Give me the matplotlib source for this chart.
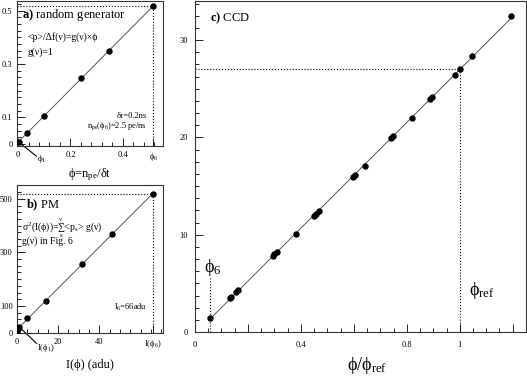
import numpy as np
import matplotlib
matplotlib.use("Agg")
import matplotlib.pyplot as plt
from matplotlib.ticker import MultipleLocator, FixedLocator

###Donnees###
# a) random generator
phi_a = [0.002, 0.033, 0.10, 0.24, 0.347, 0.516]
sig_a = [0.008, 0.040, 0.106, 0.246, 0.349, 0.517]
# b) PM
I_b = [0.0, 0.3, 1.0, 5.0, 14.0, 31.4, 46.3, 66.0]
sig_b = [4.0, 14.0, 22.0, 56.0, 120.0, 257.0, 368.0, 519.0]
# c) CCD
x_c = [0.057, 0.133, 0.136, 0.155, 0.163, 0.293, 0.299, 0.308, 0.382, 0.449,
       0.456, 0.468, 0.595, 0.604, 0.644, 0.742, 0.748, 0.818, 0.887, 0.897,
       0.981, 1.0, 1.047, 1.192]
y_c = [1.5, 3.5, 3.6, 4.1, 4.3, 7.8, 8.0, 8.2, 10.1, 11.9,
       12.1, 12.4, 15.9, 16.1, 17.1, 19.9, 20.1, 21.96, 23.9, 24.2,
       26.4, 27.0, 28.4, 32.5]
phi_ref = 1.0
y_ref = 27.0
################################

plt.rcParams['font.family'] = ['Liberation Serif', 'DejaVu Serif']
plt.rcParams['mathtext.fontset'] = 'custom'
plt.rcParams['mathtext.rm'] = 'Liberation Serif'
plt.rcParams['mathtext.it'] = 'Liberation Serif:italic'
plt.rcParams['mathtext.bf'] = 'Liberation Serif:bold'
plt.rcParams['mathtext.default'] = 'regular'

fig = plt.figure(figsize=(5.27, 3.77), dpi=100)
axA = fig.add_axes([0.0317, 0.6135, 0.2776, 0.384])
axB = fig.add_axes([0.0317, 0.1175, 0.2776, 0.392])
axC = fig.add_axes([0.370, 0.119, 0.628, 0.878])

def style(ax):
    ax.tick_params(which='both', direction='in', top=False, right=False,
                   labelsize=6, pad=3, width=0.6)
    ax.tick_params(which='major', length=6)
    ax.tick_params(which='minor', length=3)
    for s in ax.spines.values():
        s.set_linewidth(0.8)
        s.set_color('#333333')

def droite(ax, x, y):
    p = np.polyfit(x, y, 1)
    xx = np.array([min(x), max(x)])
    ax.plot(xx, np.polyval(p, xx), '-', color='#555555', lw=0.7, zorder=2)
    ax.plot(x, y, 'o', color='black', ms=3.6, zorder=3)

###Panneau a###
style(axA)
droite(axA, phi_a, sig_a)
axA.set_xlim(-0.005, 0.553)
axA.set_ylim(-0.006, 0.536)
axA.plot([-0.005, phi_a[-1]], [sig_a[-1], sig_a[-1]], ':', color='black', lw=0.8)
axA.plot([phi_a[-1], phi_a[-1]], [-0.006, sig_a[-1]], ':', color='black', lw=0.8)
axA.xaxis.set_major_locator(FixedLocator([0, 0.2, 0.4, phi_a[-1]]))
axA.set_xticklabels(['0', '0.2', '0.4', '$ϕ_6$'])
axA.xaxis.set_minor_locator(MultipleLocator(0.04))
axA.yaxis.set_major_locator(FixedLocator([0, 0.1, 0.3, 0.5]))
axA.set_yticklabels(['0', '0.1', '0.3', '0.5'])
axA.yaxis.set_minor_locator(MultipleLocator(0.025))
axA.tick_params(axis='x', pad=4)
axA.set_xlabel('ϕ=n$_{pe}$/δt', fontsize=9, labelpad=2)
axA.text(0.015, 0.483, '$\\mathbf{a)}$ random generator', fontsize=9, va='center')
axA.text(0.035, 0.40, '<p>/Δf(ν)=g(ν)×ϕ', fontsize=7, va='center')
axA.text(0.035, 0.345, 'g(ν)=1', fontsize=7, va='center')
axA.text(0.49, 0.106, 'δτ=0.2ns', fontsize=6, ha='right', va='center')
axA.text(0.49, 0.066, 'n$_{pe}$(ϕ$_6$)=2.5 pe/ns', fontsize=6, ha='right', va='center')
axA.plot([phi_a[0], 0.07], [sig_a[0], -0.045], '-', color='black', lw=0.8, clip_on=False)
axA.text(0.072, -0.055, '$ϕ_1$', fontsize=6.5, va='center')

###Panneau b###
style(axB)
droite(axB, I_b, sig_b)
axB.set_xlim(-0.15, 70.9)
axB.set_ylim(0, 552)
axB.plot([-0.15, I_b[-1]], [sig_b[-1], sig_b[-1]], ':', color='black', lw=0.8)
axB.plot([I_b[-1], I_b[-1]], [0, sig_b[-1]], ':', color='black', lw=0.8)
axB.xaxis.set_major_locator(FixedLocator([0, 20, 40, I_b[-1]]))
axB.set_xticklabels(['0', '20', '40', 'I($ϕ_6$)'])
axB.xaxis.set_minor_locator(MultipleLocator(5))
axB.yaxis.set_major_locator(FixedLocator([0, 100, 300, 500]))
axB.set_yticklabels(['0', '100', '300', '500'])
axB.yaxis.set_minor_locator(MultipleLocator(25))
axB.tick_params(axis='x', pad=4)
axB.set_xlabel('I(ϕ) (adu)', fontsize=9, labelpad=6)
axB.text(4.5, 477, '$\\mathbf{b)}$ PM', fontsize=9, va='center')
axB.text(2.5, 390, 'σ$^2$(I(ϕ))=$\\sum_{s}^{ν}$<p$_s$> g(ν)', fontsize=7, va='center')
axB.text(2.5, 340, 'g(ν) in Fig. 6', fontsize=7, va='center')
axB.text(63, 96, 'I$_6$=66adu', fontsize=6, ha='right', va='center')
axB.plot([I_b[2], 9.5], [sig_b[2], -40], '-', color='black', lw=0.8, clip_on=False)
axB.text(9.8, -58, 'I($ϕ_1$)', fontsize=6, va='center')

###Panneau c###
style(axC)
droite(axC, x_c, y_c)
axC.set_xlim(0, 1.25)
axC.set_ylim(0, 34)
axC.plot([0, phi_ref], [y_ref, y_ref], ':', color='black', lw=0.8)
axC.plot([phi_ref, phi_ref], [0, y_ref], ':', color='black', lw=0.8)
axC.plot([x_c[0], x_c[0]], [0, 5.6], ':', color='black', lw=0.8)
axC.xaxis.set_major_locator(MultipleLocator(0.2))
axC.set_xticklabels([])
axC.xaxis.set_minor_locator(MultipleLocator(0.05))
for v, s in [(0, '0'), (0.4, '0.4'), (0.8, '0.8'), (1.0, '1')]:
    axC.text(v, -1.3, s, fontsize=6, ha='center', va='center')
axC.yaxis.set_major_locator(MultipleLocator(10))
axC.yaxis.set_minor_locator(MultipleLocator(1.25))
axC.tick_params(axis='y', pad=5)
axC.set_xlabel('ϕ/ϕ$_{ref}$', fontsize=13)
axC.xaxis.set_label_coords(0.52, -0.07)
axC.text(0.057, 32.2, '$\\mathbf{c)}$ CCD', fontsize=9, va='center')
axC.text(0.034, 6.6, '$ϕ_6$', fontsize=13, va='center')
axC.text(1.034, 4.3, '$ϕ_{ref}$', fontsize=13, va='center')

plt.savefig('out.png', dpi=100)
